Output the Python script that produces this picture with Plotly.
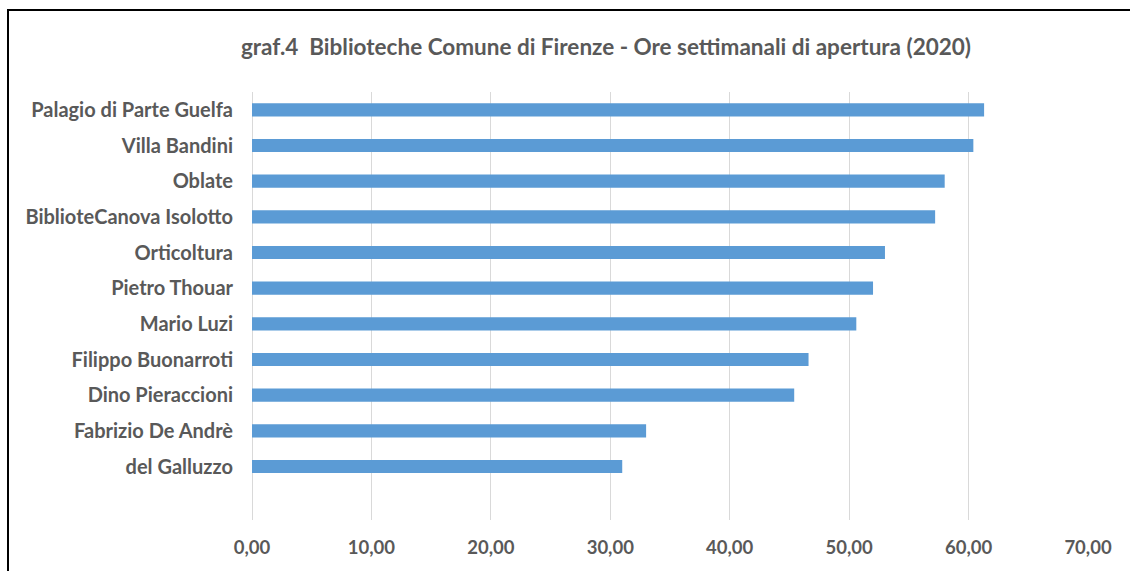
import plotly.graph_objects as go

categories = [
    "Palagio di Parte Guelfa",
    "Villa Bandini",
    "Oblate",
    "BiblioteCanova Isolotto",
    "Orticoltura",
    "Pietro Thouar",
    "Mario Luzi",
    "Filippo Buonarroti",
    "Dino Pieraccioni",
    "Fabrizio De Andrè",
    "del Galluzzo",
]
hours = [61.3, 60.4, 58.0, 57.2, 53.0, 52.0, 50.6, 46.6, 45.4, 33.0, 31.0]
x_ticks = [0, 10, 20, 30, 40, 50, 60, 70]
x_tick_labels = ["0,00", "10,00", "20,00", "30,00", "40,00", "50,00", "60,00", "70,00"]
title_text = "graf.4  Biblioteche Comune di Firenze - Ore settimanali di apertura (2020)"

# bottom-to-top order for plotting
cats_plot = categories[::-1]
vals_plot = hours[::-1]

W, H = 1130, 571
L, R, T, B = 252, 42, 92, 51
pw, ph = W - L - R, H - T - B

def px_x(px):
    return (px - L) / pw

def px_y(py):
    return (H - B - py) / ph

FONT = "Lato"
TXT = "#595959"

fig = go.Figure()
fig.add_trace(go.Bar(
    x=vals_plot, y=cats_plot, orientation="h",
    marker=dict(color="#5B9BD5", line=dict(width=0)),
    width=0.37,
    hoverinfo="x+y",
))

fig.update_layout(
    width=W, height=H,
    margin=dict(l=L, r=R, t=T, b=B, autoexpand=False),
    paper_bgcolor="white", plot_bgcolor="white",
    showlegend=False,
    title=dict(
        text="<b>" + title_text + "</b>",
        x=606 / W, xref="container", xanchor="center",
        y=1 - 47.5 / H, yref="container", yanchor="middle",
        font=dict(family=FONT, size=22.5, color=TXT),
    ),
    xaxis=dict(
        range=[0, 70], tickvals=x_ticks, ticktext=["<b>%s</b>" % t for t in x_tick_labels],
        showgrid=True, gridcolor="#D9D9D9", gridwidth=1,
        zeroline=True, zerolinecolor="#D9D9D9", zerolinewidth=1,
        showline=False, ticks="", ticklabelstandoff=14,
        tickfont=dict(family=FONT, size=18.5, color=TXT),
        fixedrange=True,
    ),
    yaxis=dict(
        type="category", categoryorder="array", categoryarray=cats_plot,
        range=[-1.5, 10.5],
        tickvals=cats_plot, ticktext=["<b>%s</b>" % c for c in cats_plot],
        showgrid=False, zeroline=False, showline=False, ticks="",
        ticklabelstandoff=18,
        tickfont=dict(family=FONT, size=20, color=TXT),
        fixedrange=True,
    ),
    shapes=[
        dict(type="line", xref="paper", yref="paper",
             x0=px_x(8), x1=px_x(8), y0=px_y(H + 5), y1=px_y(10),
             line=dict(color="black", width=2)),
        dict(type="line", xref="paper", yref="paper",
             x0=px_x(7), x1=px_x(W + 5), y0=px_y(10), y1=px_y(10),
             line=dict(color="black", width=2)),
    ],
)

fig.write_html(
    "out.html",
    config={"displayModeBar": False},
    post_script="document.body.style.margin='0';document.body.style.overflow='hidden';",
)
